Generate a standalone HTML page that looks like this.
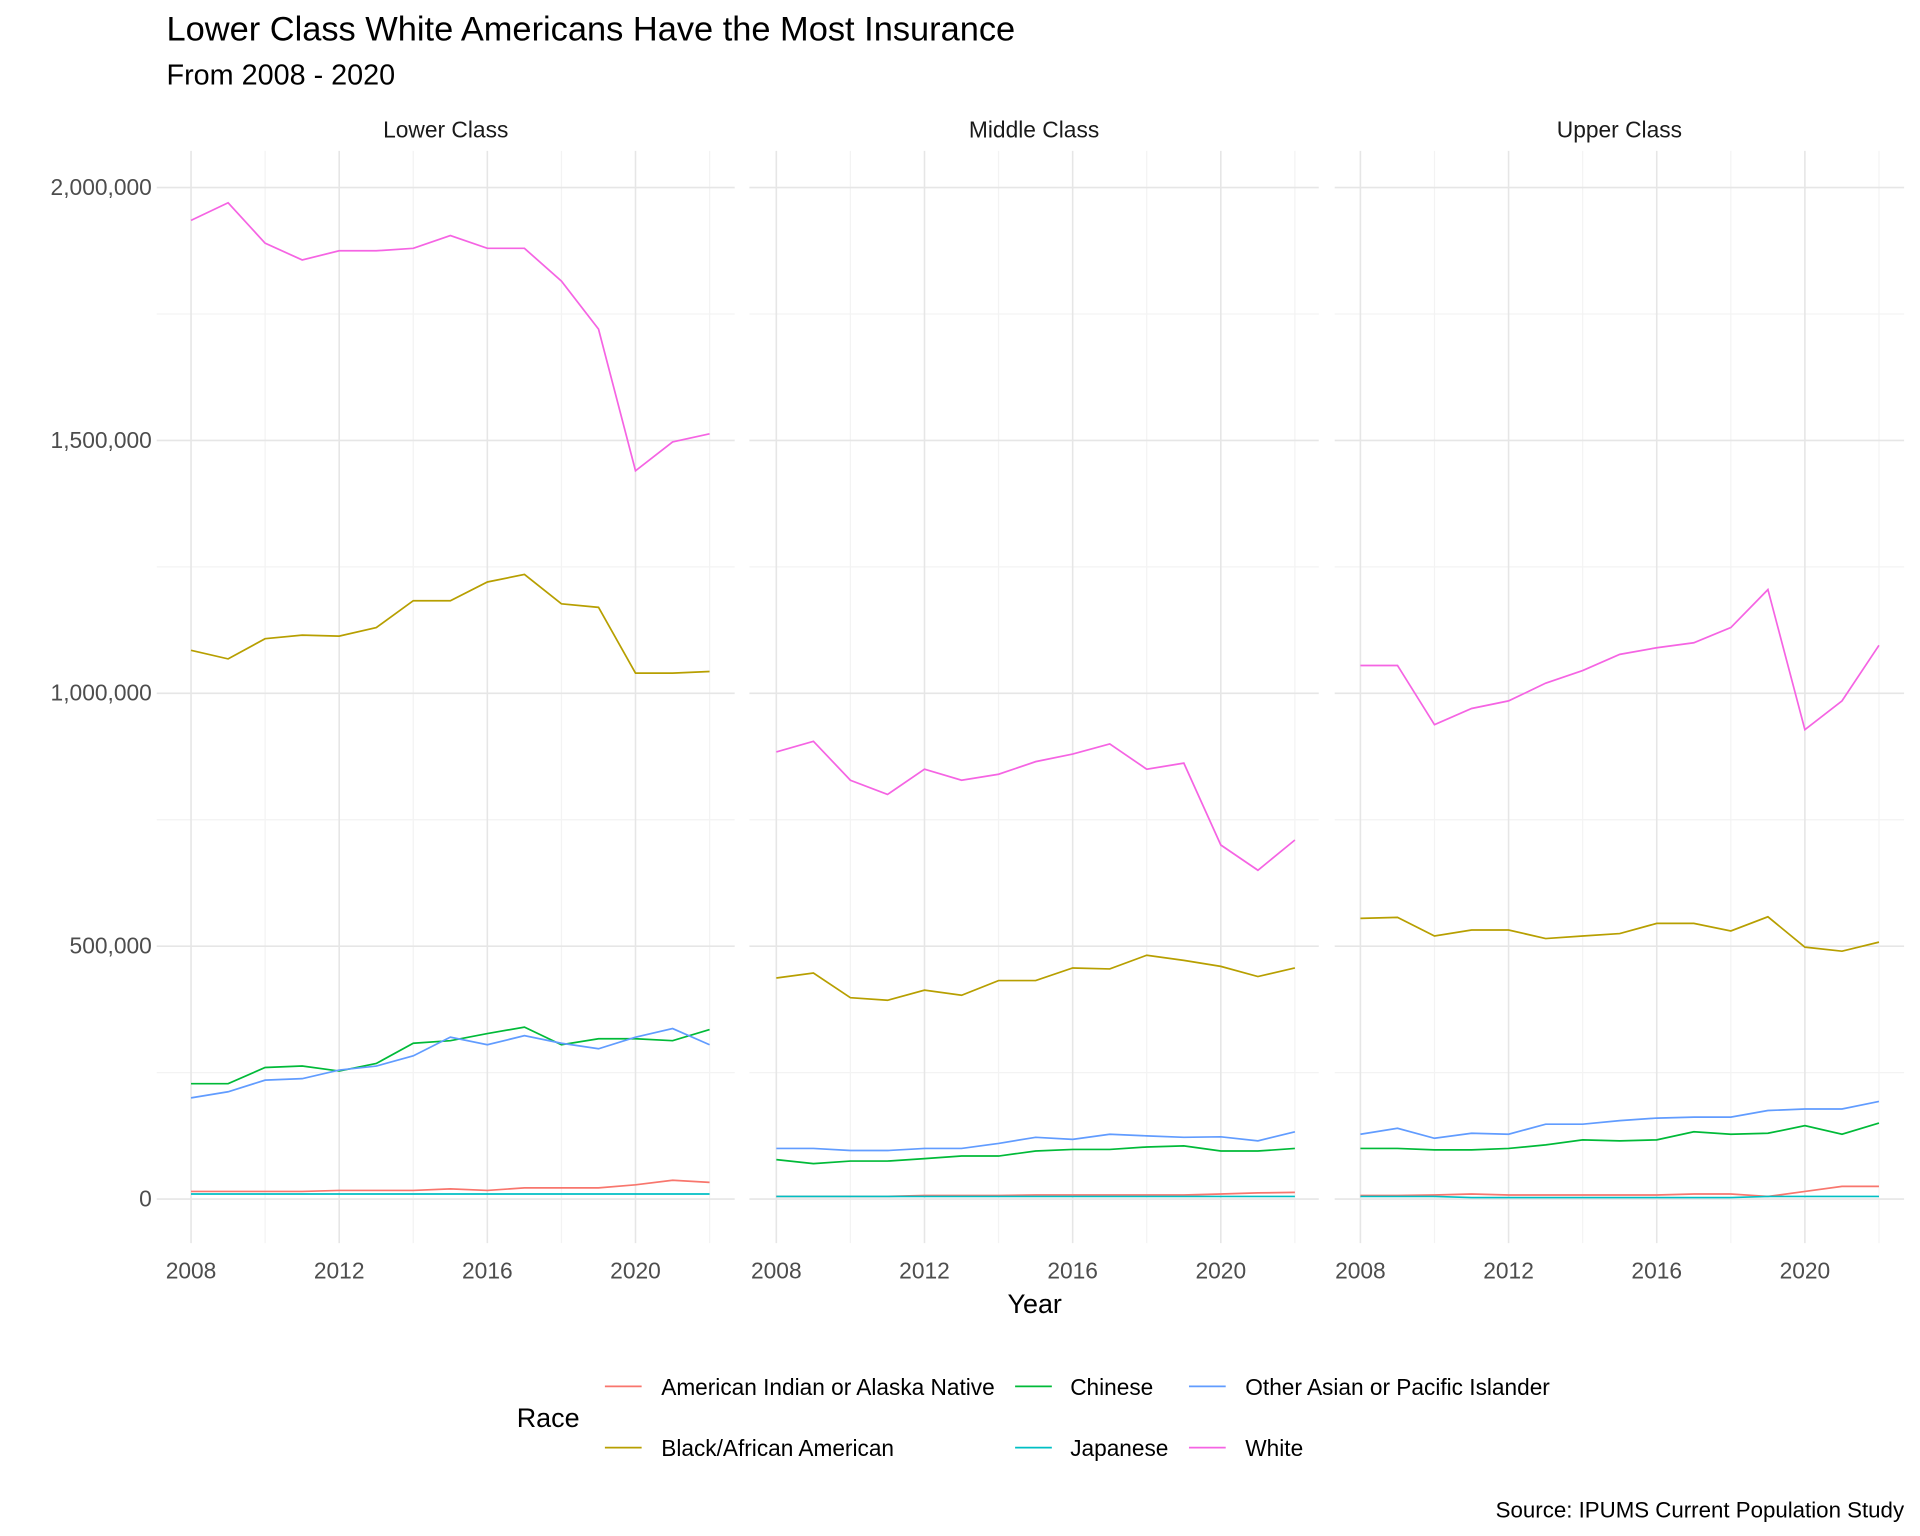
<!DOCTYPE html>
<html><head><meta charset="utf-8"><style>
html,body{margin:0;padding:0;background:#fff;}
svg{display:block;font-family:"Liberation Sans",sans-serif;}
</style></head><body>
<svg id="chart" width="1920" height="1536" viewBox="0 0 1568 1254" xmlns="http://www.w3.org/2000/svg">
<rect width="1568" height="1254" fill="#fff"/>
<text x="136" y="33" font-size="28.1" fill="#000">Lower Class White Americans Have the Most Insurance</text>
<text x="136" y="69" font-size="23.5" fill="#000">From 2008 - 2020</text>
<g id="panels"></g>
<text x="845" y="1072" font-size="22" text-anchor="middle" fill="#000">Year</text>
<text x="422" y="1165" font-size="22" fill="#000">Race</text>
<g id="legend"></g>
<text x="1555" y="1239" font-size="18.2" text-anchor="end" fill="#000">Source: IPUMS Current Population Study</text>
</svg>
<script>
const years = [2008,2009,2010,2011,2012,2013,2014,2015,2016,2017,2018,2019,2020,2021,2022];
const panelNames = ["Lower Class","Middle Class","Upper Class"];
const raceNames = ["American Indian or Alaska Native","Black/African American","Chinese","Japanese","Other Asian or Pacific Islander","White"];
const raceColors = ["#F8766D","#B79F00","#00BA38","#00BFC4","#619CFF","#F564E3"];
const yTickValues = [0,500000,1000000,1500000,2000000];
const yTickLabels = ["0","500,000","1,000,000","1,500,000","2,000,000"];
const xTickValues = [2008,2012,2016,2020];
// values in thousands
const lowerAIAN = [15,15,15,15,17,17,17,20,17,22,22,22,28,37,33];
const lowerBlack = [1085,1068,1108,1115,1113,1130,1183,1183,1220,1235,1177,1170,1040,1040,1043];
const lowerChinese = [228,228,260,263,253,268,308,313,327,340,305,317,317,313,335];
const lowerJapanese = [10,10,10,10,10,10,10,10,10,10,10,10,10,10,10];
const lowerOtherAsian = [200,212,235,238,255,263,283,320,305,323,308,297,320,337,305];
const lowerWhite = [1935,1970,1890,1857,1875,1875,1880,1905,1880,1880,1815,1720,1440,1497,1513];
const middleAIAN = [5,5,5,5,7,7,7,8,8,8,8,8,10,12,13];
const middleBlack = [437,447,398,393,413,403,432,432,457,455,482,472,460,440,457];
const middleChinese = [78,70,75,75,80,85,85,95,98,98,103,105,95,95,100];
const middleJapanese = [5,5,5,5,5,5,5,5,5,5,5,5,5,5,5];
const middleOtherAsian = [100,100,96,96,100,100,110,122,118,128,125,122,123,115,133];
const middleWhite = [884,905,828,800,850,828,840,865,880,900,850,862,700,650,710];
const upperAIAN = [7,7,8,10,8,8,8,8,8,10,10,5,15,25,25];
const upperBlack = [555,557,520,532,532,515,520,525,545,545,530,558,498,490,508];
const upperChinese = [100,100,97,97,100,107,117,115,117,133,128,130,145,128,150];
const upperJapanese = [5,5,5,3,3,3,3,3,3,3,3,5,5,5,5];
const upperOtherAsian = [128,140,120,130,128,148,148,155,160,162,162,175,178,178,193];
const upperWhite = [1055,1055,938,970,985,1020,1045,1077,1090,1100,1130,1205,928,985,1095];

const panelSeries = [
 [lowerAIAN,lowerBlack,lowerChinese,lowerJapanese,lowerOtherAsian,lowerWhite],
 [middleAIAN,middleBlack,middleChinese,middleJapanese,middleOtherAsian,middleWhite],
 [upperAIAN,upperBlack,upperChinese,upperJapanese,upperOtherAsian,upperWhite]
];
const NS="http://www.w3.org/2000/svg";
const panelLeft=[128,612,1090], panelRight=[600,1077,1555], x2008=[156,634,1111];
const pxPerYear=(519-156)/12;
const yTop=123, yBottom=1015;
function yScale(v){return 979 - v/2000000*826;}
function xScale(p,yr){return x2008[p]+(yr-2008)*pxPerYear;}
function mk(tag,attrs,parent){const e=document.createElementNS(NS,tag);for(const k in attrs)e.setAttribute(k,attrs[k]);parent.appendChild(e);return e;}
const panelsG=document.getElementById('panels');
for(let p=0;p<3;p++){
 const g=mk('g',{},panelsG);
 
 
 for(let v=250000;v<=2000000;v+=500000){
  const l=mk('line',{x1:panelLeft[p],x2:panelRight[p],y1:yScale(v),y2:yScale(v),stroke:'#f3f3f3','stroke-width':1},g);
  
  
 }
 for(let yr=2010;yr<=2022;yr+=4){
  const l=mk('line',{x1:xScale(p,yr),x2:xScale(p,yr),y1:yTop,y2:yBottom,stroke:'#f3f3f3','stroke-width':1},g);
  
  
 }
 yTickValues.forEach(v=>{
  const l=mk('line',{x1:panelLeft[p],x2:panelRight[p],y1:yScale(v),y2:yScale(v),stroke:'#e6e6e6','stroke-width':1.3},g);
  
  
 });
 xTickValues.forEach(yr=>{
  const l=mk('line',{x1:xScale(p,yr),x2:xScale(p,yr),y1:yTop,y2:yBottom,stroke:'#e6e6e6','stroke-width':1.3},g);
  
  
  const t=mk('text',{x:xScale(p,yr),y:1044,'font-size':18.6,'text-anchor':'middle',fill:'#4d4d4d'},g);
  t.textContent=yr;
  
  
 });
 const st=mk('text',{x:(panelLeft[p]+panelRight[p])/2,y:112,'font-size':18.6,'text-anchor':'middle',fill:'#1a1a1a'},g);
 st.textContent=panelNames[p];
 
 
 panelSeries[p].forEach((s,i)=>{
  const pts=s.map((v,j)=>xScale(p,years[j]).toFixed(1)+','+yScale(v*1000).toFixed(1)).join(' ');
  const pl=mk('polyline',{points:pts,fill:'none',stroke:raceColors[i],'stroke-width':1.4},g);
  
  
 });
}
yTickValues.forEach((v,i)=>{
 const t=mk('text',{x:124,y:yScale(v)+6,'font-size':18.6,'text-anchor':'end',fill:'#4d4d4d'},panelsG);
 t.textContent=yTickLabels[i];
 
 
});
const legendG=document.getElementById('legend');
const keyX=[494,829,971], textX=[540,874,1017], rowY=[1132,1182];
raceNames.forEach((n,i)=>{
 const c=Math.floor(i/2), r=i%2;
 const g=mk('g',{},legendG);
 
 
 mk('line',{x1:keyX[c],x2:keyX[c]+30,y1:rowY[r],y2:rowY[r],stroke:raceColors[i],'stroke-width':1.4},g);
 const t=mk('text',{x:textX[c],y:rowY[r]+7,'font-size':18.5,fill:'#000'},g);
 t.textContent=n;
});
</script>
</body></html>
